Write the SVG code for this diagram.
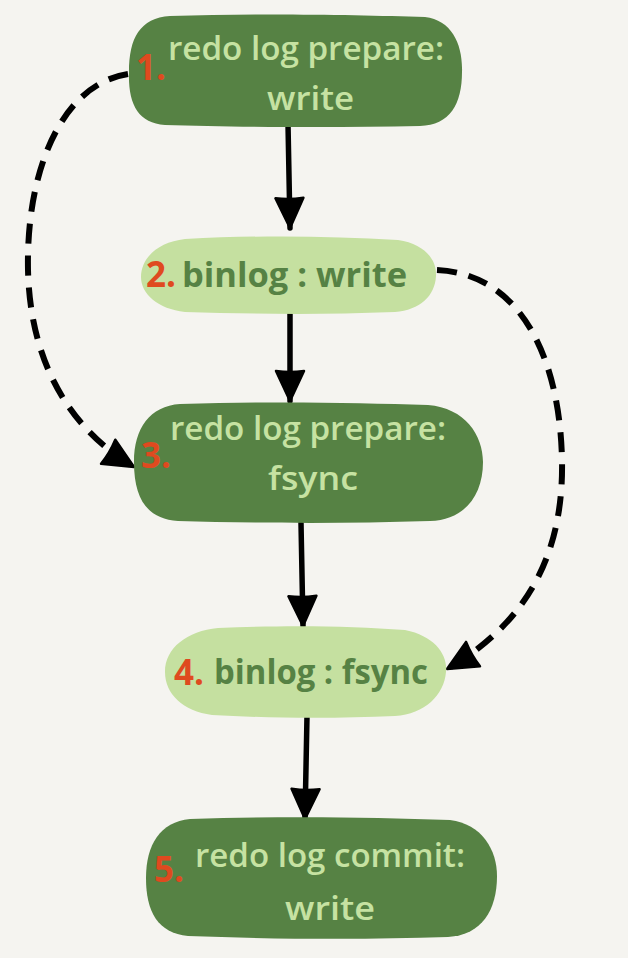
<svg xmlns="http://www.w3.org/2000/svg" width="628" height="958" viewBox="0 0 628 958">
  <defs>
    <style>
      .dark { fill: #568244; }
      .light { fill: #c5e0a0; }
      .t { font-family: "Open Sans", "Noto Sans", sans-serif; font-weight: 600; }
      .on-dark { fill: #c6e2a2; font-size: 33px; }
      .on-light { fill: #568244; font-size: 34px; font-weight: 700; }
      .num { fill: #df4a1f; font-size: 35px; font-weight: 700; }
      .solid { fill: none; stroke: #000; stroke-width: 5.5; stroke-linecap: round; }
      .dash { fill: none; stroke: #000; stroke-width: 6; stroke-dasharray: 20 12; }
    </style>
    <marker id="head" markerUnits="userSpaceOnUse" markerWidth="40" markerHeight="40" viewBox="-4 -18 40 36" refX="30" refY="0" orient="auto">
      <path d="M0,-14 L30,0 L0,14 Q2,0 0,-14 Z" fill="#000" stroke="#000" stroke-width="2.5" stroke-linejoin="round"/>
    </marker>
  </defs>

  <rect width="628" height="958" fill="#f5f4f0"/>

  <!-- connectors -->
  <g id="connectors">
    <path class="solid" d="M288,124 L290,228" marker-end="url(#head)"/>
    <path class="solid" d="M290,314 L290,401" marker-end="url(#head)"/>
    <path class="solid" d="M301,523 L303,626" marker-end="url(#head)"/>
    <path class="solid" d="M307,716 L305,819" marker-end="url(#head)"/>
    <path class="dash" d="M128,74 C62,84 26,170 28,270 C30,360 68,428 134,467" marker-end="url(#head)"/>
    <path class="dash" d="M437,270 C522,274 560,360 562,460 C564,560 522,626 447,669" marker-end="url(#head)"/>
  </g>

  <!-- step 1 -->
  <g id="node1">
    <path class="dark" d="M170,16 C260,13 360,15 425,17 C452,20 463,45 462,72 C462,104 450,125 420,126 C330,128 230,127 165,125 C138,123 128,104 129,72 C129,38 140,18 170,16 Z"/>
    <text class="t num" x="136" y="80">1.</text>
    <text class="t on-dark" x="168" y="60" textLength="276" lengthAdjust="spacingAndGlyphs">redo log prepare:</text>
    <text class="t on-dark" x="267" y="110" textLength="87" lengthAdjust="spacingAndGlyphs">write</text>
  </g>

  <!-- step 2 -->
  <g id="node2">
    <path class="light" d="M185,239 C260,235 330,236 398,240 C425,244 437,260 436,276 C435,296 420,310 395,312 C320,315 250,314 185,312 C158,309 141,294 141,277 C141,258 158,242 185,239 Z"/>
    <text class="t num" x="146" y="287">2.</text>
    <text class="t on-light" x="182" y="287" textLength="225" lengthAdjust="spacingAndGlyphs">binlog : write</text>
  </g>

  <!-- step 3 -->
  <g id="node3">
    <path class="dark" d="M180,404 C280,401 360,403 428,405 C465,408 483,435 483,462 C483,495 465,520 430,521 C340,524 250,523 178,521 C148,519 134,500 134,462 C134,428 150,406 180,404 Z"/>
    <text class="t num" x="141" y="468">3.</text>
    <text class="t on-dark" x="170" y="440" textLength="276" lengthAdjust="spacingAndGlyphs">redo log prepare:</text>
    <text class="t on-dark" x="268" y="490" textLength="90" lengthAdjust="spacingAndGlyphs">fsync</text>
  </g>

  <!-- step 4 -->
  <g id="node4">
    <path class="light" d="M218,628 C290,625 350,626 405,630 C435,636 448,655 446,672 C444,695 425,714 395,716 C330,719 265,718 212,715 C183,711 165,694 165,672 C165,648 187,631 218,628 Z"/>
    <text class="t num" x="174" y="685">4.</text>
    <text class="t on-light" x="214" y="684" textLength="214" lengthAdjust="spacingAndGlyphs">binlog : fsync</text>
  </g>

  <!-- step 5 -->
  <g id="node5">
    <path class="dark" d="M190,819 C280,816 370,817 450,820 C482,824 497,850 497,876 C497,910 482,935 448,937 C360,940 270,939 188,936 C158,933 146,912 146,878 C146,845 160,822 190,819 Z"/>
    <text class="t num" x="154" y="882">5.</text>
    <text class="t on-dark" x="195" y="867" textLength="270" lengthAdjust="spacingAndGlyphs">redo log commit:</text>
    <text class="t on-dark" x="285" y="920" textLength="90" lengthAdjust="spacingAndGlyphs">write</text>
  </g>
</svg>
